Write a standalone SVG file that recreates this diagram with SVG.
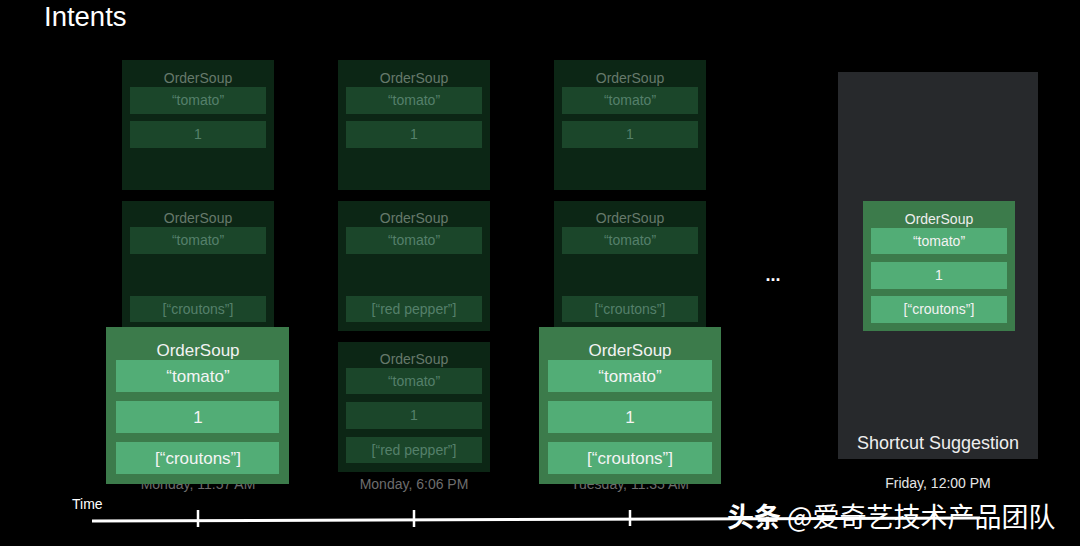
<svg xmlns="http://www.w3.org/2000/svg" width="1080" height="546" viewBox="0 0 1080 546">
<style>
text{font-family:"Liberation Sans",Arial,sans-serif;text-anchor:middle}
.fbox{fill:#0c2615}
.frow{fill:#1b462a}
.ftitle{fill:#66796b;font-size:14px}
.ftxt{fill:#55806a;font-size:14px}
.bbox{fill:#3c7b4b}
.brow{fill:#52ad76}
.btitle{fill:#f2f2f2;font-size:17px}
.btxt{fill:#f4f4f4;font-size:17px}
.stitle{fill:#eeeeee;font-size:14px}
.stxt{fill:#f2f2f2;font-size:14px}
.date{fill:#6d6d6d;font-size:14px}
.tick{stroke:#ffffff;stroke-width:2.5}
</style>
<rect width="1080" height="546" fill="#000"/>
<text x="44" y="26" style="text-anchor:start;font-size:27.5px;fill:#fff">Intents</text>

<!-- dates (behind boxes) -->
<g id="dates">
<text class="date" x="198" y="489">Monday, 11:57 AM</text>
<text class="date" x="414" y="489">Monday, 6:06 PM</text>
<text class="date" x="630" y="489">Tuesday, 11:35 AM</text>
<text x="938" y="488" style="font-size:14px;fill:#e6e6e6">Friday, 12:00 PM</text>
</g>

<!-- column 1 faded -->
<g id="c1a">
<rect class="fbox" x="122" y="60" width="152" height="130"/>
<text class="ftitle" x="198" y="83">OrderSoup</text>
<rect class="frow" x="130" y="87" width="136" height="27"/>
<text class="ftxt" x="198" y="105">“tomato”</text>
<rect class="frow" x="130" y="121" width="136" height="27"/>
<text class="ftxt" x="198" y="139">1</text>
</g>
<g id="c1b">
<rect class="fbox" x="122" y="201" width="152" height="130"/>
<text class="ftitle" x="198" y="223">OrderSoup</text>
<rect class="frow" x="130" y="227" width="136" height="27"/>
<text class="ftxt" x="198" y="245">“tomato”</text>
<rect class="frow" x="130" y="296" width="136" height="26"/>
<text class="ftxt" x="198" y="314">[“croutons”]</text>
</g>

<!-- column 2 faded -->
<g id="c2a">
<rect class="fbox" x="338" y="60" width="152" height="130"/>
<text class="ftitle" x="414" y="83">OrderSoup</text>
<rect class="frow" x="346" y="87" width="136" height="27"/>
<text class="ftxt" x="414" y="105">“tomato”</text>
<rect class="frow" x="346" y="121" width="136" height="27"/>
<text class="ftxt" x="414" y="139">1</text>
</g>
<g id="c2b">
<rect class="fbox" x="338" y="201" width="152" height="130"/>
<text class="ftitle" x="414" y="223">OrderSoup</text>
<rect class="frow" x="346" y="227" width="136" height="27"/>
<text class="ftxt" x="414" y="245">“tomato”</text>
<rect class="frow" x="346" y="296" width="136" height="26"/>
<text class="ftxt" x="414" y="314">[“red pepper”]</text>
</g>
<g id="c2c">
<rect class="fbox" x="338" y="342" width="152" height="130"/>
<text class="ftitle" x="414" y="364">OrderSoup</text>
<rect class="frow" x="346" y="368" width="136" height="26"/>
<text class="ftxt" x="414" y="386">“tomato”</text>
<rect class="frow" x="346" y="402" width="136" height="27"/>
<text class="ftxt" x="414" y="420">1</text>
<rect class="frow" x="346" y="437" width="136" height="26"/>
<text class="ftxt" x="414" y="455">[“red pepper”]</text>
</g>

<!-- column 3 faded -->
<g id="c3a">
<rect class="fbox" x="554" y="60" width="152" height="130"/>
<text class="ftitle" x="630" y="83">OrderSoup</text>
<rect class="frow" x="562" y="87" width="136" height="27"/>
<text class="ftxt" x="630" y="105">“tomato”</text>
<rect class="frow" x="562" y="121" width="136" height="27"/>
<text class="ftxt" x="630" y="139">1</text>
</g>
<g id="c3b">
<rect class="fbox" x="554" y="201" width="152" height="130"/>
<text class="ftitle" x="630" y="223">OrderSoup</text>
<rect class="frow" x="562" y="227" width="136" height="27"/>
<text class="ftxt" x="630" y="245">“tomato”</text>
<rect class="frow" x="562" y="296" width="136" height="26"/>
<text class="ftxt" x="630" y="314">[“croutons”]</text>
</g>

<!-- bright boxes -->
<g id="c1bright">
<rect class="bbox" x="106" y="327" width="183" height="157"/>
<text class="btitle" x="198" y="356">OrderSoup</text>
<rect class="brow" x="116" y="360" width="163" height="32"/>
<text class="btxt" x="198" y="382">“tomato”</text>
<rect class="brow" x="116" y="401" width="163" height="32"/>
<text class="btxt" x="198" y="423">1</text>
<rect class="brow" x="116" y="442" width="163" height="32"/>
<text class="btxt" x="198" y="464">[“croutons”]</text>
</g>
<g id="c3bright">
<rect class="bbox" x="539" y="327" width="182" height="157"/>
<text class="btitle" x="630" y="356">OrderSoup</text>
<rect class="brow" x="548" y="360" width="164" height="32"/>
<text class="btxt" x="630" y="382">“tomato”</text>
<rect class="brow" x="548" y="401" width="164" height="32"/>
<text class="btxt" x="630" y="423">1</text>
<rect class="brow" x="548" y="442" width="164" height="32"/>
<text class="btxt" x="630" y="464">[“croutons”]</text>
</g>

<text x="773" y="281" style="font-size:18px;fill:#fff;font-weight:bold">...</text>

<!-- shortcut suggestion -->
<g id="shortcut">
<rect x="838" y="72" width="200" height="387" fill="#27292c"/>
<rect class="bbox" x="863" y="201" width="152" height="130"/>
<text class="stitle" x="939" y="224">OrderSoup</text>
<rect class="brow" x="871" y="228" width="136" height="26"/>
<text class="stxt" x="939" y="246">“tomato”</text>
<rect class="brow" x="871" y="262" width="136" height="27"/>
<text class="stxt" x="939" y="280">1</text>
<rect class="brow" x="871" y="296" width="136" height="27"/>
<text class="stxt" x="939" y="314">[“croutons”]</text>
<text x="938" y="449" style="font-size:18px;fill:#eeeeee">Shortcut Suggestion</text>
</g>

<!-- timeline -->
<g id="timeline">
<text x="72" y="509" style="text-anchor:start;font-size:14px;fill:#fff">Time</text>
<line x1="92" y1="521" x2="980" y2="518" stroke="#fff" stroke-width="3"/>
<line class="tick" x1="198" y1="510" x2="198" y2="527"/>
<line class="tick" x1="414" y1="510" x2="414" y2="527"/>
<line class="tick" x1="630" y1="510" x2="630" y2="526"/>
</g>

<text x="727" y="527" style="text-anchor:start;font-size:27px;fill:#fff;font-family:'Noto Sans CJK SC','Liberation Sans',sans-serif"><tspan font-weight="bold">头条</tspan> @爱奇艺技术产品团队</text>
</svg>
